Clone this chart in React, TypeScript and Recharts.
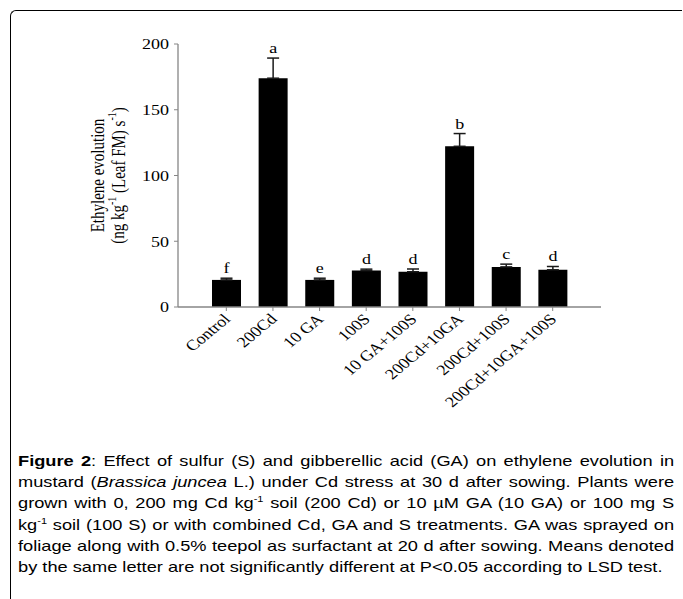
import React from 'react';
import { BarChart, Bar, XAxis, YAxis, ErrorBar, LabelList } from 'recharts';

const categories = ['Control', '200Cd', '10 GA', '100S', '10 GA+100S', '200Cd+10GA', '200Cd+100S', '200Cd+10GA+100S'];
const values = [20.6, 174, 20.6, 27.7, 26.8, 122.2, 30.5, 28.3];
const errors = [1.3, 15.3, 1.3, 1.1, 2.1, 9.7, 2.1, 2.5];
const letters = ['f', 'a', 'e', 'd', 'd', 'b', 'c', 'd'];
const yTicks = [0, 50, 100, 150, 200];

const data = categories.map((name, i) => ({
  name,
  value: values[i],
  err: [0, errors[i]],
  letter: letters[i],
}));

const SERIF = '"Liberation Serif", "Times New Roman", serif';
const SANS = '"Liberation Sans", Arial, sans-serif';
const AXIS = '#868686';
const SX = 1.2;

const XTick = (props: any) => {
  const { x, y, payload } = props;
  return (
    <text
      x={0}
      y={0}
      textAnchor="end"
      transform={`translate(${x + 5},${y + 7}) scale(${SX},1) rotate(-45)`}
      fontFamily={SERIF}
      fontSize={15}
      fill="#000"
    >
      {payload.value}
    </text>
  );
};

const YTick = (props: any) => {
  const { x, y, payload } = props;
  return (
    <text
      x={0}
      y={0}
      dy="0.355em"
      textAnchor="end"
      transform={`translate(${x},${y}) scale(${SX},1)`}
      fontFamily={SERIF}
      fontSize={15}
      fill="#000"
    >
      {payload.value}
    </text>
  );
};

const LetterLabel = (props: any) => {
  const { x, y, width, height, index } = props;
  const v = values[index];
  const pxPerUnit = height / v;
  const errTop = y - errors[index] * pxPerUnit;
  return (
    <text
      x={0}
      y={0}
      textAnchor="middle"
      transform={`translate(${x + width / 2},${errTop - 5}) scale(${SX},1)`}
      fontFamily={SERIF}
      fontSize={15}
      fill="#000"
    >
      {letters[index]}
    </text>
  );
};

const YLabel = (props: any) => {
  const { viewBox } = props;
  const cy = viewBox.y + viewBox.height / 2;
  return (
    <g fontFamily={SERIF} fontSize={15} fill="#000">
      <text transform={`translate(98,${cy}) scale(${SX},1) rotate(-90)`} textAnchor="middle" dominantBaseline="central">
        Ethylene evolution
      </text>
      <text transform={`translate(118,${cy}) scale(${SX},1) rotate(-90)`} textAnchor="middle" dominantBaseline="central">
        (ng kg<tspan dy={-5} fontSize={10}>-1</tspan><tspan dy={5}> (Leaf FM) s</tspan>
        <tspan dy={-5} fontSize={10}>-1</tspan><tspan dy={5}>)</tspan>
      </text>
    </g>
  );
};

const KgInv = () => (
  <span style={{ whiteSpace: 'nowrap' }}>
    kg<sup style={{ fontSize: 9, lineHeight: 0 }}>-1</sup>
  </span>
);

export default function App() {
  return (
    <div style={{ position: 'absolute', left: 0, top: 0, width: 683, height: 599, background: '#fff', overflow: 'hidden' }}>
      <div
        style={{
          position: 'absolute',
          left: 10,
          top: 10,
          width: 672,
          height: 600,
          borderTop: '1px solid #000',
          borderLeft: '1px solid #000',
          borderTopLeftRadius: 6,
          boxSizing: 'border-box',
        }}
      />
      <div style={{ position: 'absolute', left: 0, top: 0 }}>
        <BarChart width={683} height={430} data={data} margin={{ top: 44, right: 82, left: 0, bottom: 0 }}>
          <XAxis
            dataKey="name"
            interval={0}
            height={123}
            padding={{ left: 25, right: 25 }}
            tickSize={4}
            tickLine={{ stroke: AXIS }}
            axisLine={{ stroke: AXIS, strokeWidth: 1.3 }}
            tick={<XTick />}
          />
          <XAxis
            xAxisId="top"
            dataKey="name"
            orientation="top"
            height={0}
            tick={false}
            tickLine={false}
            axisLine={{ stroke: AXIS, strokeWidth: 1.3 }}
          />
          <YAxis
            domain={[0, 200]}
            ticks={yTicks}
            width={178}
            tickSize={4}
            tickMargin={5}
            tickLine={{ stroke: AXIS }}
            axisLine={{ stroke: AXIS, strokeWidth: 1.3 }}
            tick={<YTick />}
            label={<YLabel />}
          />
          <YAxis
            yAxisId="right"
            orientation="right"
            domain={[0, 200]}
            width={0}
            tick={false}
            tickLine={false}
            axisLine={{ stroke: AXIS, strokeWidth: 1.3 }}
          />
          <Bar dataKey="value" fill="#000" barSize={29} isAnimationActive={false}>
            <ErrorBar dataKey="err" direction="y" width={6} stroke="#1a1a1a" strokeWidth={1.5} />
            <LabelList dataKey="letter" content={<LetterLabel />} />
          </Bar>
        </BarChart>
      </div>
      <div
        style={{
          position: 'absolute',
          left: 18,
          top: 450,
          width: 540,
          transform: 'scaleX(1.215)',
          transformOrigin: '0 0',
          fontFamily: SANS,
          fontSize: 15,
          lineHeight: '21.2px',
          textAlign: 'justify',
          color: '#000',
        }}
      >
        <b>Figure 2</b>: Effect of sulfur (S) and gibberellic acid (GA) on ethylene evolution in mustard (
        <i>Brassica juncea</i> L.) under Cd stress at 30 d after sowing. Plants were grown with 0, 200 mg Cd <KgInv />{' '}
        soil (200 Cd) or 10 µM GA (10 GA) or 100 mg S <KgInv /> soil (100 S) or with combined Cd, GA and S treatments.
        GA was sprayed on foliage along with 0.5% teepol as surfactant at 20 d after sowing. Means denoted by the same
        letter are not significantly different at P&lt;0.05 according to LSD test.
      </div>
    </div>
  );
}
